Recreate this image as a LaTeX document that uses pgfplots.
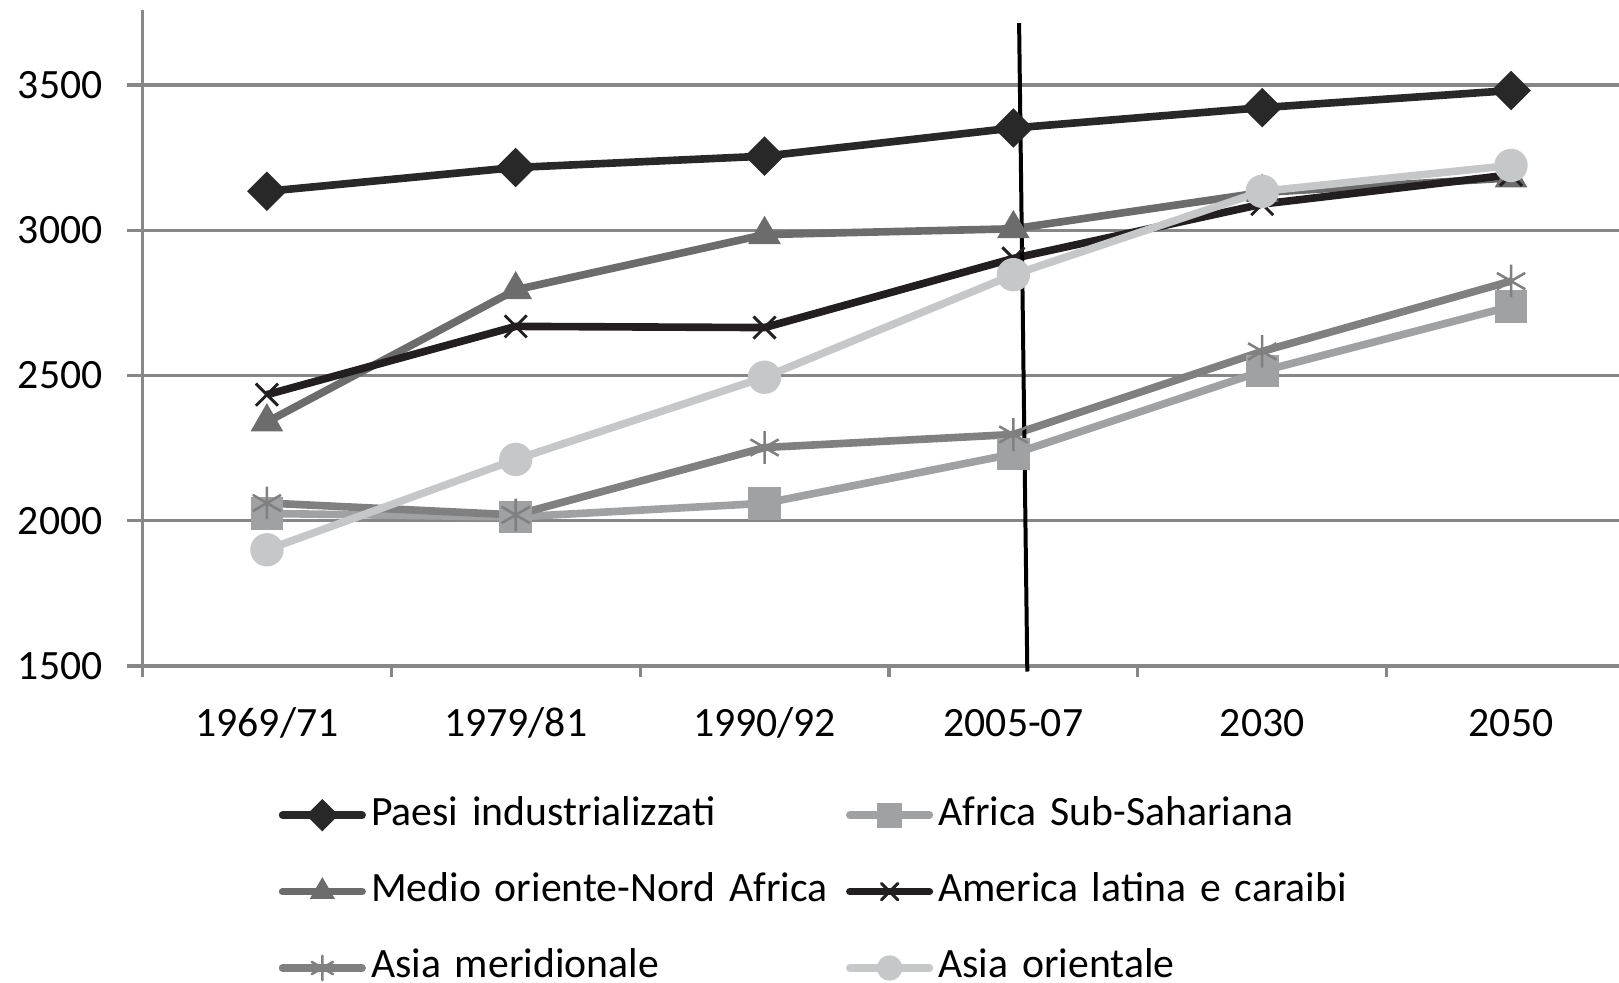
\documentclass[border=0pt]{standalone}
\usepackage{pgfplots}
\pgfplotsset{compat=1.18}
\usepackage{fontspec}
\setmainfont{Carlito}
\usetikzlibrary{calc}

\definecolor{gridgray}{RGB}{135,135,135}
\definecolor{cPaesi}{RGB}{40,40,40}
\definecolor{cAfrica}{RGB}{160,161,163}
\definecolor{cMedio}{RGB}{108,108,108}
\definecolor{cAmerica}{RGB}{35,31,32}
\definecolor{cAsiaM}{RGB}{128,128,128}
\definecolor{cAsiaO}{RGB}{198,199,200}

\begin{document}
\begin{tikzpicture}
\pgfplotsset{serie/.style={line width=2.1pt, mark options={solid, line width=0.4pt}}}
\begin{axis}[
    name=main,
    scale only axis,
    width=143mm, height=63.5mm,
    xmin=-0.5, xmax=5.434,
    ymin=1500, ymax=3757,
    clip=false,
    axis lines*=left,
    axis line style={-, draw=gridgray, line width=0.85pt},
    tick align=outside,
    xtick={0,...,5},
    xticklabels={1969/71,1979/81,1990/92,2005-07,2030,2050},
    major x tick style={draw=none},
    minor xtick={-0.5,0.5,...,4.5},
    minor tick length=1.1mm,
    minor x tick style={draw=gridgray, line width=0.85pt},
    ytick={1500,2000,...,3500},
    major tick length=1.5mm,
    y tick style={draw=gridgray, line width=0.85pt},
    ymajorgrids,
    grid style={draw=gridgray, line width=0.85pt},
    tick label style={font=\fontsize{11.5}{13.8}\selectfont, text=black},
    /pgf/number format/assume math mode=true,
    /pgf/number format/1000 sep={},
    xticklabel style={anchor=base, yshift=-5.3mm},
    yticklabel style={anchor=east, inner sep=0pt, xshift=-2.3mm},
    legend columns=2,
    legend cell align=left,
    legend image code/.code={
        \draw[line cap=round, mark repeat=2, mark phase=2, #1,
              every mark/.append style={scale=0.75}]
            plot coordinates {(0.04cm,0cm) (0.425cm,0cm) (0.81cm,0cm)};
    },
    legend style={
        at={(rel axis cs:0,0)}, anchor=north west,
        xshift=13.2mm, yshift=-12.8mm,
        draw=none, fill=none, inner sep=0pt, outer sep=0pt,
        font=\fontsize{11.5}{13.8}\selectfont,
        nodes={inner sep=0pt, text width=46mm, text height=2.6mm, text depth=0.7mm},
        /tikz/every odd column/.style={column sep=0.5mm},
        row sep=4.1mm,
    },
]
\addplot[serie, color=cPaesi, mark=square*, mark size=2.8pt, mark options={rotate=45}]
    coordinates {(0,3134) (1,3216) (2,3255) (3,3352) (4,3422) (5,3481)};
\addlegendentry{Paesi industrializzati}
\addplot[serie, color=cAfrica, mark=square*, mark size=4.3pt]
    coordinates {(0,2025) (1,2013) (2,2060) (3,2230) (4,2515) (5,2738)};
\addlegendentry{Africa Sub-Sahariana}
\addplot[serie, color=cMedio, mark=triangle*, mark size=4.8pt]
    coordinates {(0,2340) (1,2795) (2,2985) (3,3005) (4,3130) (5,3180)};
\addlegendentry{Medio oriente-Nord Africa}
\addplot[serie, color=cAmerica, mark=x, mark size=4.3pt, mark options={line width=0.8pt}]
    coordinates {(0,2434) (1,2669) (2,2665) (3,2903) (4,3090) (5,3191)};
\addlegendentry{America latina e caraibi}
\addplot[serie, color=cAsiaM, mark=asterisk, mark size=4.5pt, mark options={line width=0.7pt}]
    coordinates {(0,2061) (1,2020) (2,2252) (3,2297) (4,2583) (5,2825)};
\addlegendentry{Asia meridionale}
\addplot[serie, color=cAsiaO, mark=*, mark size=4.4pt]
    coordinates {(0,1900) (1,2211) (2,2494) (3,2847) (4,3134) (5,3223)};
\addlegendentry{Asia orientale}

% linea verticale tracciata a mano sul grafico
\draw[black, line width=1.1pt] (axis cs:3.023,3713) -- (axis cs:3.056,1481);
\end{axis}
\pgfresetboundingbox
\path[use as bounding box] ($(main.south west)+(-13.8mm,-30.7mm)$) rectangle ($(main.north east)+(0,1mm)$);
\end{tikzpicture}
\end{document}
